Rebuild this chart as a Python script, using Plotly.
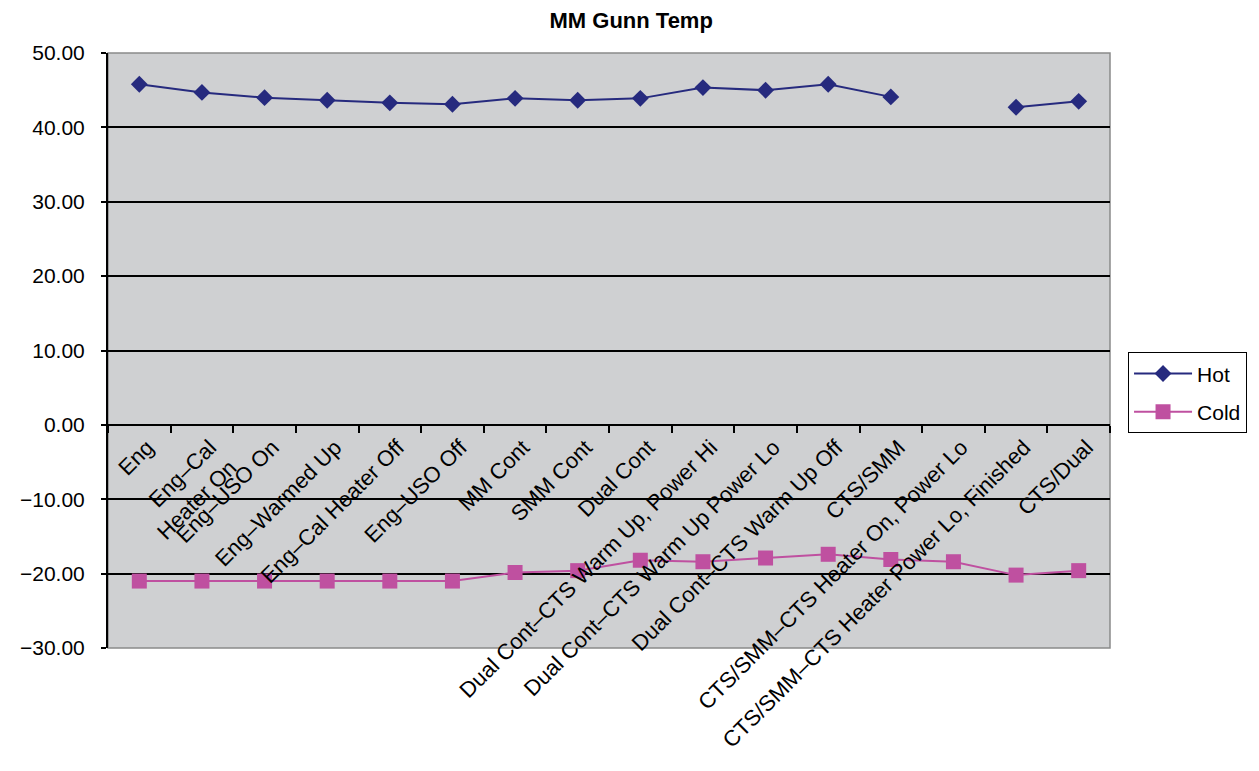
import plotly.graph_objects as go

# ---------------------------------------------------------------- data

categories = ["Eng", "Eng–Cal<br>Heater On", "Eng–USO On", "Eng–Warmed Up",
              "Eng–Cal Heater Off", "Eng–USO Off", "MM Cont", "SMM Cont",
              "Dual Cont", "Dual Cont–CTS Warm Up, Power Hi",
              "Dual Cont–CTS Warm Up Power Lo", "Dual Cont–CTS Warm Up Off",
              "CTS/SMM", "CTS/SMM–CTS Heater On, Power Lo",
              "CTS/SMM–CTS Heater Power Lo, Finished", "CTS/Dual"]

hot = [45.8, 44.7, 44.0, 43.65, 43.3, 43.1, 43.9, 43.65,
       43.9, 45.35, 45.0, 45.8, 44.1, None, 42.7, 43.5]

cold = [-21.0, -21.0, -21.0, -21.0, -21.0, -21.0, -19.85, -19.6,
        -18.2, -18.4, -17.9, -17.4, -18.1, -18.4, -20.2, -19.6]

y_range = [-30, 50]

# ---------------------------------------------------------------- styling

hot_color = "#262a7e"
cold_color = "#bf50a0"
plot_bg = "#cfd0d2"
font_family = "Liberation Sans, Arial, sans-serif"

fig = go.Figure()

fig.add_trace(go.Scatter(
    x=categories, y=hot, name="Hot", mode="lines+markers", legendgroup="hot",
    line=dict(color=hot_color, width=2),
    marker=dict(symbol="diamond", size=13, color=hot_color),
))

fig.add_trace(go.Scatter(
    x=categories, y=cold, name="Cold", mode="lines+markers", legendgroup="cold",
    line=dict(color=cold_color, width=2),
    marker=dict(symbol="square", size=15, color=cold_color),
))

# x axis sits on the zero line, like the original spreadsheet chart
zero_pos = (0 - y_range[0]) / (y_range[1] - y_range[0])

fig.update_layout(
    width=1259, height=771,
    margin=dict(l=100, r=157, t=45, b=131),
    paper_bgcolor="white",
    plot_bgcolor=plot_bg,
    font=dict(family=font_family, size=21, color="black"),
    title=dict(text="<b>MM Gunn Temp</b>", x=0.495, xref="container",
               y=0.994, yref="container", xanchor="center", yanchor="top",
               font=dict(size=22)),
    showlegend=True,
    legend=dict(x=1.018, y=0.497, xanchor="left", yanchor="top",
                bordercolor="black", borderwidth=1, bgcolor="white",
                font=dict(size=21), itemwidth=58, tracegroupgap=8),
    xaxis=dict(type="category", anchor="free", position=zero_pos,
               tickangle=-45, ticks="outside", tickson="boundaries",
               ticklen=7, tickcolor="black", tickwidth=1.5,
               ticklabelshift=8,
               showline=True, linecolor="black", linewidth=2,
               showgrid=False, tickfont=dict(size=22),
               range=[-0.5, len(categories) - 0.5]),
    yaxis=dict(range=y_range, dtick=10, tickformat=".2f",
               ticks="outside", ticklen=5, tickcolor="black", tickwidth=1.5,
               ticklabelstandoff=12,
               showline=True, linecolor="black", linewidth=2,
               showgrid=True, gridcolor="black", gridwidth=1.5,
               zeroline=True, zerolinecolor="black", zerolinewidth=2,
               tickfont=dict(size=21)),
    shapes=[dict(type="rect", xref="paper", yref="paper", x0=0, x1=1, y0=0, y1=1,
                 line=dict(color="#8a8a8a", width=1.5), layer="below")],
)

fig.write_html("out.html")
